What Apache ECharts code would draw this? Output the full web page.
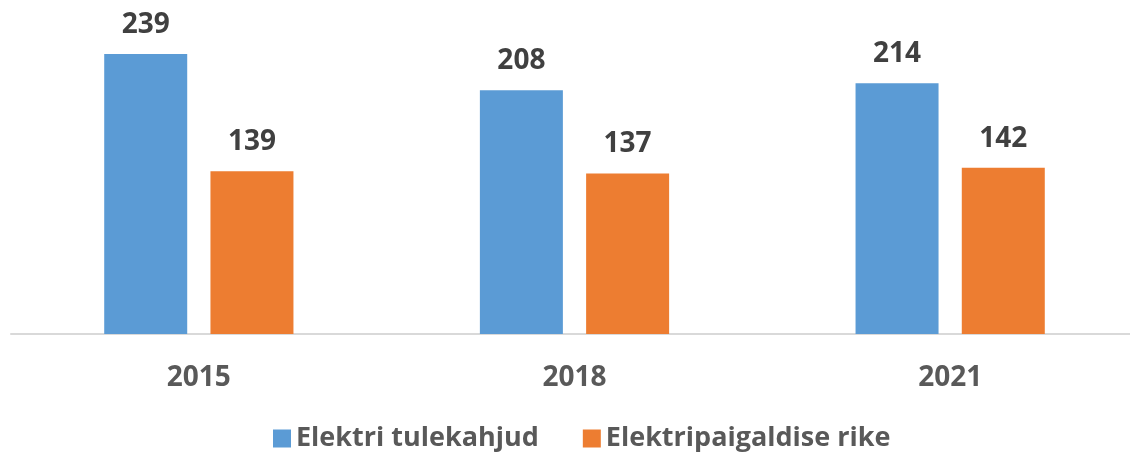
<!DOCTYPE html>
<html lang="et">
<head>
    <meta charset="UTF-8">
    <title>Elektri tulekahjud</title>
    <script src="https://cdn.jsdelivr.net/npm/echarts@6/dist/echarts.min.js"></script>
    <style>
        body { margin: 0; background: #fff; }
    </style>
</head>
<body>
    <div id="main" style="width: 1130px;height:453px;"></div>
    <script type="text/javascript">
        const years = ['2015', '2018', '2021'];
        const fireCounts = [239, 208, 214];
        const faultCounts = [139, 137, 142];
        const seriesNames = ['Elektri tulekahjud', 'Elektripaigaldise rike'];

        const fontFamily = '"Open Sans", "DejaVu Sans", sans-serif';

        let myChart = echarts.init(document.getElementById('main'));

        const labelStyle = {
            show: true,
            position: 'top',
            distance: 15,
            fontFamily: fontFamily,
            fontWeight: 'bold',
            fontSize: 28,
            color: '#404040'
        };

        let options = {
            animation: false,
            grid: { left: 11, width: 1127, top: 6, height: 328, outerBoundsMode: 'none' },
            legend: {
                top: 420,
                left: 268,
                itemWidth: 18,
                itemHeight: 18,
                itemGap: 44,
                icon: 'rect',
                textStyle: {
                    fontFamily: fontFamily,
                    fontWeight: 'bold',
                    fontSize: 27,
                    color: '#595959'
                },
                data: seriesNames
            },
            xAxis: {
                type: 'category',
                data: years,
                axisLine: { lineStyle: { color: '#d9d9d9', width: 2 } },
                axisTick: { show: false },
                axisLabel: {
                    margin: 30,
                    fontFamily: fontFamily,
                    fontWeight: 'bold',
                    fontSize: 28,
                    color: '#595959'
                }
            },
            yAxis: {
                type: 'value',
                min: 0,
                max: 280,
                show: false,
                splitLine: { show: false }
            },
            series: [
                {
                    name: seriesNames[0],
                    type: 'bar',
                    barWidth: 83,
                    barGap: '28%',
                    itemStyle: { color: '#5b9bd5' },
                    label: labelStyle,
                    data: fireCounts
                },
                {
                    name: seriesNames[1],
                    type: 'bar',
                    barWidth: 83,
                    barGap: '28%',
                    itemStyle: { color: '#ed7d31' },
                    label: labelStyle,
                    data: faultCounts
                }
            ]
        };

        myChart.setOption(options);
    </script>
</body>
</html>
